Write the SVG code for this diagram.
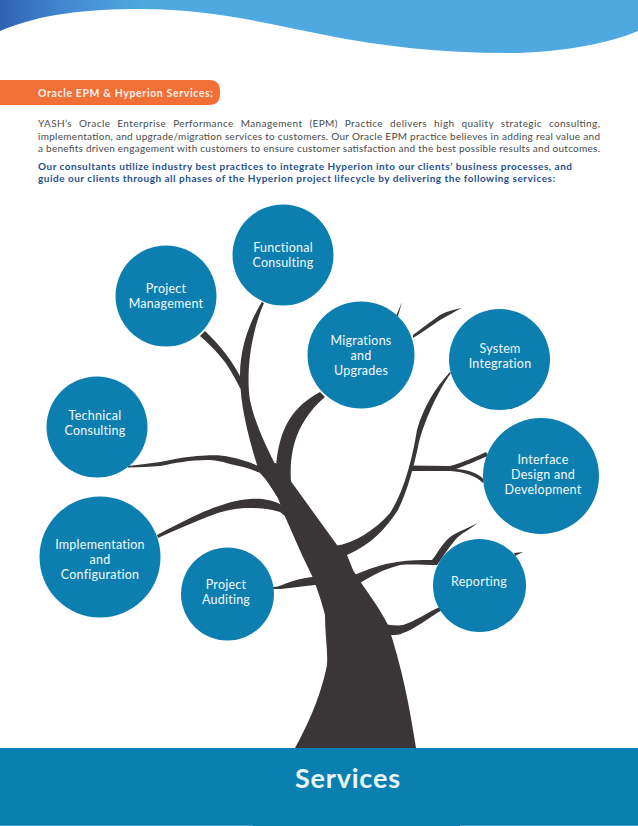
<svg xmlns="http://www.w3.org/2000/svg" width="638" height="826" viewBox="0 0 638 826">
<style>
.n{fill:#0c7fb0}
.t{font-family:"Lato","Noto Sans",sans-serif;font-size:12.5px;fill:#f2fafd;text-anchor:middle;letter-spacing:.25px}
.b{font-family:"Lato","Noto Sans",sans-serif;font-size:10px;fill:#4a4a4a}
.u{font-family:"Lato","Noto Sans",sans-serif;font-size:10px;font-weight:700;fill:#1f4f8f}
.w{fill:#3a3638}
</style>
<defs>
<linearGradient id="wave" x1="0" y1="0" x2="1" y2="0">
<stop offset="0" stop-color="#2f62b3"/><stop offset="0.1" stop-color="#4288d0"/><stop offset="0.22" stop-color="#4fa8e0"/><stop offset="1" stop-color="#4fa8e0"/>
</linearGradient>
</defs>
<rect width="638" height="826" fill="#fff"/>
<path id="header-wave" fill="url(#wave)" d="M0,0H638V31C610,43 560,53 508,53C440,53 380,46 325,35C270,24 210,9 142,9C85,9 40,14 0,31Z"/>
<g id="header-bar">
<path d="M0,80H209Q220,80 220,91V94Q220,105 209,105H0Z" fill="#f26f38"/>
<text x="38" y="97" font-family="Lato,'Noto Sans',sans-serif" font-size="10.5" font-weight="700" fill="#fdf1e8" textLength="175" lengthAdjust="spacing">Oracle EPM &amp; Hyperion Services:</text>
</g>
<g id="intro">
<text class="b" x="38" y="127" textLength="562" lengthAdjust="spacing" word-spacing="4">YASH’s Oracle Enterprise Performance Management (EPM) Practice delivers high quality strategic consulting,</text>
<text class="b" x="38" y="140" textLength="562" lengthAdjust="spacing">implementation, and upgrade/migration services to customers. Our Oracle EPM practice believes in adding real value and</text>
<text class="b" x="38" y="152" textLength="562" lengthAdjust="spacing">a benefits driven engagement with customers to ensure customer satisfaction and the best possible results and outcomes.</text>
<text class="u" x="38" y="170" textLength="534" lengthAdjust="spacing">Our consultants utilize industry best practices to integrate Hyperion into our clients’ business processes, and</text>
<text class="u" x="38" y="182" textLength="517" lengthAdjust="spacing">guide our clients through all phases of the Hyperion project lifecycle by delivering the following services:</text>
</g>
<g id="connectors" class="w">
<path id="trunk" d="M295,748C305,730 320,700 327,665C328,650 325,635 325,615C321,600 317,588 313,578L302,555L283,512L278,498L257,465L276,463L290,480L337,545L347,555L353,570C365,590 378,605 387,623C402,665 410,710 416,748Z"/>
<path d="M261.7,302C248,325 240,350 240,375C240,405 248,435 257,465L257,472L278,470C268,450 255,425 250,400C246,375 250,335 264,303Z"/>
<path d="M205,331C220,345 233,362 241,378L245,392L240,388C234,376 228,365 220,356C213,348 207,342 200,336Z"/>
<path d="M320,392C296,405 278,425 276,470L292,490C288,460 292,425 325,397Z"/>
<path d="M128,466C140,465 150,463 160,462C175,459 185,457 197,456C212,455 222,455 230,457C240,459 250,462 258,466L285,505L278,498C272,488 267,480 260,473C252,469 240,466 230,464C220,461 215,460 207,460C190,460 175,463 160,466C150,467 140,467 128,467.5Z"/>
<path d="M157,535C172,527 187,519 203,512C220,505 235,500 250,499C262,498 270,500 278,503L290,510L290,520L280,512C270,509 260,508 250,508C235,508 222,511 207,517C190,524 173,531 158,538Z"/>
<path d="M273,587C278,587 282,585 287,583C295,580 303,578 312,577L322,577L322,585L315,585C305,586 298,587 290,588C283,589 278,589 273,589Z"/>
<path d="M450,372C435,388 423,408 417,430C413,455 405,490 390,513C375,530 355,543 335,546L335,565L347,555C370,545 385,530 398,510C408,490 414,465 418,447C421,430 435,395 451,373Z"/>
<path d="M410,465.5L450,466C462,463 475,457 486,452L488,456C478,460 465,466 456,469C470,470 480,474 484,480L483,483C476,476 465,472 450,471L410,471Z"/>
<path d="M413,335C420,330 430,322 440,315C448,311 455,309 462,308C455,311 448,316 440,320C431,326 421,333 413,338Z"/>
<path d="M396,316L402,302L398,316Z"/>
<path d="M352,576C368,569 382,564 397,562C410,560 422,560 432,560C438,553 443,541 453,535C462,530 470,527 478,523C470,529 464,532 458,537C451,544 444,555 437,565C425,565 412,564 400,565C388,568 376,573 365,580L358,584Z"/>
<path d="M380,623C388,625 397,626 403,625C416,621 428,612 440,607L442,610C430,617 415,629 403,633C399,635 396,635 393,635L385,635Z"/>
<path d="M514,553L523,552L515,556Z"/>
</g>
<g id="node-functional"><circle class="n" cx="283" cy="255" r="50.5"/><text class="t" x="283" y="252">Functional</text><text class="t" x="283" y="267">Consulting</text></g>
<g id="node-project-management"><circle class="n" cx="166" cy="296" r="50.5"/><text class="t" x="166" y="293">Project</text><text class="t" x="166" y="308">Management</text></g>
<g id="node-migrations"><circle class="n" cx="361" cy="355" r="53.5"/><text class="t" x="361" y="345">Migrations</text><text class="t" x="361" y="360">and</text><text class="t" x="361" y="375">Upgrades</text></g>
<g id="node-system"><circle class="n" cx="499.5" cy="359.5" r="50.5"/><text class="t" x="500" y="353">System</text><text class="t" x="500" y="368">Integration</text></g>
<g id="node-interface"><circle class="n" cx="541" cy="476" r="58"/><text class="t" x="543" y="464">Interface</text><text class="t" x="543" y="479">Design and</text><text class="t" x="543" y="494">Development</text></g>
<g id="node-technical"><circle class="n" cx="97" cy="427" r="50.5"/><text class="t" x="95" y="420">Technical</text><text class="t" x="95" y="435">Consulting</text></g>
<g id="node-implementation"><circle class="n" cx="100" cy="557" r="60.5"/><text class="t" x="100" y="549">Implementation</text><text class="t" x="100" y="564">and</text><text class="t" x="100" y="579">Configuration</text></g>
<g id="node-auditing"><circle class="n" cx="227.5" cy="594" r="46.5"/><text class="t" x="226" y="589">Project</text><text class="t" x="226" y="604">Auditing</text></g>
<g id="node-reporting"><circle class="n" cx="479.5" cy="585.5" r="46.5"/><text class="t" x="479" y="586">Reporting</text></g>
<g id="footer">
<rect x="0" y="748" width="638" height="78" fill="#0a80b0"/>
<rect x="0" y="825" width="253" height="1" fill="#3fa0cc"/>
<rect x="460" y="825" width="178" height="1" fill="#3fa0cc"/>
<text x="347.500" y="788" font-family="Lato,'Noto Sans',sans-serif" font-size="27" font-weight="700" fill="#e8f6fb" text-anchor="middle" textLength="105" lengthAdjust="spacing">Services</text>
</g>
</svg>
